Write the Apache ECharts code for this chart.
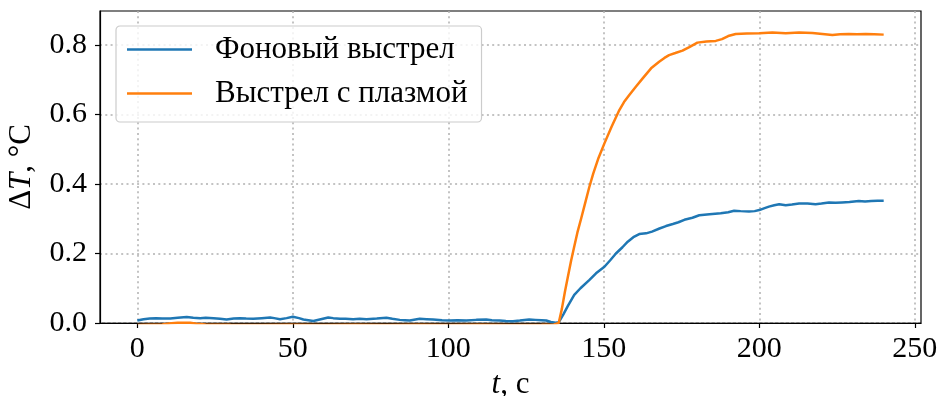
<!DOCTYPE html>
<html>
<head>
<meta charset="utf-8">
<script src="https://cdn.jsdelivr.net/npm/echarts@6/dist/echarts.min.js"></script>
<style>
html,body{margin:0;padding:0;background:#fff;}
#chart{width:942px;height:396px;}
</style>
</head>
<body>
<div id="chart"></div>
<script>
// ---- data ----
const seriesNames = ['Фоновый выстрел', 'Выстрел с плазмой'];
const xTicks = [0, 50, 100, 150, 200, 250];
const yTicks = [0, 0.2, 0.4, 0.6, 0.8];

const blueT = [0,2,4,6,8,10.6,13,15.9,18,20.2,22,24.5,26.6,28.7,31,33,35,37.3,40,42.7,44,45.9,48,50,52,53.4,55,56.6,59,61.4,63,65.2,67,69.4,71.5,73.7,77,80.1,82,84.4,86,87.6,90.8,93,95.1,98,100.4,103,105.8,109,112.2,114,116.5,118.5,120.8,123,126,128,130,131.5,133,134.5,135.5,137,138.5,140.5,142.5,145.4,147.5,150.2,152,153.9,156,157.7,159.5,161.4,163.6,165.5,167.9,170,172.2,174,175.9,178.5,180.7,184,187.6,190,191.9,194,196.7,198.5,200,201.5,203.1,204.8,206.4,208.5,210.5,212.8,215.5,218.1,220,222.4,224.5,226.6,229,232,234,236,238,240];
const blueV = [0.007,0.011,0.013,0.014,0.013,0.013,0.015,0.017,0.015,0.014,0.015,0.014,0.012,0.010,0.013,0.014,0.013,0.012,0.014,0.016,0.014,0.011,0.014,0.018,0.014,0.010,0.008,0.006,0.011,0.016,0.014,0.012,0.012,0.011,0.012,0.011,0.013,0.015,0.012,0.009,0.008,0.007,0.012,0.011,0.010,0.008,0.007,0.008,0.007,0.009,0.010,0.008,0.007,0.006,0.005,0.007,0.010,0.009,0.008,0.007,0.003,0.001,0.002,0.025,0.050,0.081,0.100,0.124,0.143,0.162,0.180,0.200,0.218,0.234,0.247,0.256,0.258,0.263,0.272,0.279,0.285,0.290,0.297,0.303,0.310,0.313,0.316,0.319,0.323,0.322,0.321,0.322,0.325,0.330,0.335,0.339,0.342,0.339,0.341,0.344,0.344,0.342,0.344,0.347,0.346,0.347,0.348,0.351,0.350,0.351,0.352,0.352];

const orangeT = [0,4,8,11,13,15,17,19,22,30,40,50,60,70,80,90,100,110,120,130,134,135.5,136.5,137.5,138.5,139.5,140.5,141.5,142.7,144,145.3,146.6,148.3,150.2,152.5,155,156.5,158.2,160.3,162.5,165.2,167.8,169.5,171,173,175.3,177.5,180.1,183,186,188,190,192.4,196,200,204.2,208.5,212.8,217.1,220.3,223.5,226,228.8,231.5,234.2,237,240];
const orangeV = [-0.006,-0.005,-0.004,-0.001,0.001,0.001,0.001,-0.002,-0.004,-0.005,-0.006,-0.005,-0.006,-0.005,-0.006,-0.005,-0.006,-0.005,-0.006,-0.005,-0.004,0.000,0.040,0.090,0.135,0.180,0.220,0.260,0.300,0.345,0.390,0.430,0.475,0.517,0.565,0.613,0.636,0.656,0.680,0.704,0.733,0.752,0.763,0.771,0.777,0.784,0.794,0.807,0.810,0.812,0.817,0.826,0.832,0.833,0.834,0.836,0.834,0.836,0.835,0.832,0.829,0.831,0.832,0.831,0.832,0.831,0.830];

const blueData = blueT.map((t, i) => [t, blueV[i]]);
const orangeData = orangeT.map((t, i) => [t, orangeV[i]]);

const FONT = '"Liberation Serif", "DejaVu Serif", serif';
const gridLine = {show: true, lineStyle: {color: '#b0b0b0', width: 1.5, type: [2, 3.3]}};
const titleRich = {
  i: {fontFamily: FONT, fontSize: 31, fontStyle: 'italic', color: '#000'},
  n: {fontFamily: FONT, fontSize: 31, color: '#000'}
};

const chart = echarts.init(document.getElementById('chart'), null, {renderer: 'canvas'});
chart.setOption({
  animation: false,
  backgroundColor: '#fff',
  textStyle: {fontFamily: FONT},
  grid: {left: 100, right: 21, top: 11, bottom: 73, containLabel: false, outerBoundsMode: 'none', show: true, borderColor: '#000', borderWidth: 1.2, backgroundColor: 'transparent'},
  legend: {
    orient: 'vertical',
    left: 116, top: 26,
    padding: [8, 14, 13, 11],
    itemGap: 13,
    itemWidth: 65, itemHeight: 2.5,
    icon: 'rect',
    borderColor: '#cccccc', borderWidth: 1.2, borderRadius: 4,
    backgroundColor: 'rgba(255,255,255,0.8)',
    textStyle: {fontFamily: FONT, fontSize: 31, color: '#000', lineHeight: 31, padding: [0, 0, 0, 18]},
    data: seriesNames
  },
  xAxis: {
    type: 'value', min: -12, max: 252,
    splitNumber: 5,
    name: '{i|t}{n|, c}', nameLocation: 'middle', nameGap: 39,
    nameTextStyle: {rich: titleRich},
    axisLine: {show: true, lineStyle: {color: '#000', width: 1.2}},
    axisTick: {show: true, length: 5, customValues: xTicks, lineStyle: {color: '#000', width: 1.2}},
    axisLabel: {customValues: xTicks, fontFamily: FONT, fontSize: 30, color: '#000', margin: 11},
    splitLine: gridLine
  },
  yAxis: {
    type: 'value', min: 0, max: 0.898, interval: 0.2,
    name: '{n|Δ}{i|T}{n|, °C}', nameLocation: 'middle', nameGap: 63, nameRotate: 90,
    nameTextStyle: {rich: titleRich},
    axisLine: {show: true, onZero: false, lineStyle: {color: '#000', width: 1.2}},
    axisTick: {show: true, length: 5, customValues: yTicks, lineStyle: {color: '#000', width: 1.2}},
    axisLabel: {customValues: yTicks, fontFamily: FONT, fontSize: 30, color: '#000', margin: 13, formatter: v => v.toFixed(1)},
    splitLine: gridLine
  },
  series: [
    {name: seriesNames[0], type: 'line', data: blueData, showSymbol: false, symbol: 'none', clip: true, color: '#1f77b4', lineStyle: {width: 2.5, color: '#1f77b4'}},
    {name: seriesNames[1], type: 'line', data: orangeData, showSymbol: false, symbol: 'none', clip: true, color: '#ff7f0e', lineStyle: {width: 2.5, color: '#ff7f0e'}}
  ]
});
</script>
</body>
</html>
